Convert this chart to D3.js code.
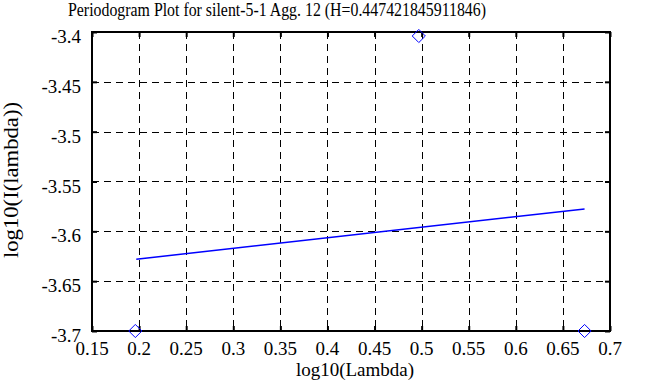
<!DOCTYPE html>
<html>
<head>
<meta charset="utf-8">
<script src="https://cdn.jsdelivr.net/npm/d3@7"></script>
<style>
  body { margin: 0; background: #fff; }
  text { font-family: "Liberation Serif", "DejaVu Serif", serif; fill: #000; }
</style>
</head>
<body>
<svg id="svg1" width="663" height="387"></svg>
<script>
// data
var titleText = 'Periodogram Plot for silent-5-1 Agg. 12 (H=0.447421845911846)';
var pointsX = [0.196, 0.497, 0.673];
var pointsY = [-3.7, -3.404, -3.7];
var fitX = [0.197, 0.673];
var fitY = [-3.628, -3.5775];
var xTicks = [0.15, 0.2, 0.25, 0.3, 0.35, 0.4, 0.45, 0.5, 0.55, 0.6, 0.65, 0.7];
var yTicks = [-3.4, -3.45, -3.5, -3.55, -3.6, -3.65, -3.7];

var plotLeft = 92, plotRight = 610, plotTop = 32, plotBottom = 331;
var svg = d3.select('#svg1');

var x = d3.scaleLinear().domain([0.15, 0.7]).range([plotLeft, plotRight]);
var y = d3.scaleLinear().domain([-3.7, -3.4]).range([plotBottom, plotTop]);

// dashed grid
svg.append('g').selectAll('line').data(xTicks.slice(1, -1)).enter().append('line')
    .attr('x1', function (d) { return Math.round(x(d)) + 0.5; })
    .attr('x2', function (d) { return Math.round(x(d)) + 0.5; })
    .attr('y1', plotTop).attr('y2', plotBottom)
    .attr('stroke', '#000').attr('stroke-width', 1).attr('stroke-dasharray', '7,5');
svg.append('g').selectAll('line').data(yTicks.slice(1, -1)).enter().append('line')
    .attr('y1', function (d) { return Math.round(y(d)) + 0.5; })
    .attr('y2', function (d) { return Math.round(y(d)) + 0.5; })
    .attr('x1', plotLeft).attr('x2', plotRight)
    .attr('stroke', '#000').attr('stroke-width', 1).attr('stroke-dasharray', '7,5');

// tick marks on frame
var xAxisB = d3.axisBottom(x).tickValues(xTicks).tickSize(-5).tickFormat('');
var xAxisT = d3.axisTop(x).tickValues(xTicks).tickSize(-5).tickFormat('');
var yAxisL = d3.axisLeft(y).tickValues(yTicks).tickSize(-5).tickFormat('');
var yAxisR = d3.axisRight(y).tickValues(yTicks).tickSize(-5).tickFormat('');
[[xAxisB, 'translate(0,' + plotBottom + ')'], [xAxisT, 'translate(0,' + plotTop + ')'],
 [yAxisL, 'translate(' + plotLeft + ',0)'], [yAxisR, 'translate(' + plotRight + ',0)']].forEach(function (a) {
    var g = svg.append('g').attr('transform', a[1]).call(a[0]);
    g.select('.domain').remove();
    g.selectAll('line').attr('stroke', '#000').attr('stroke-width', 2);
});

// frame
svg.append('rect').attr('x', plotLeft).attr('y', plotTop)
    .attr('width', plotRight - plotLeft).attr('height', plotBottom - plotTop)
    .attr('fill', 'none').attr('stroke', '#000').attr('stroke-width', 2);

// tick labels
svg.append('g').selectAll('text').data(xTicks).enter().append('text')
    .attr('x', function (d) { return x(d); })
    .attr('y', 355)
    .attr('text-anchor', 'middle')
    .attr('font-size', 19)
    .text(function (d) { return d; });
svg.append('g').selectAll('text').data(yTicks).enter().append('text')
    .attr('x', 81)
    .attr('y', function (d) { return y(d) + 11; })
    .attr('text-anchor', 'end')
    .attr('font-size', 19)
    .text(function (d) { return d; });

// fit line
var line = d3.line().x(function (d) { return x(d[0]); }).y(function (d) { return y(d[1]); });
svg.append('path').datum(d3.zip(fitX, fitY))
    .attr('d', line).attr('fill', 'none').attr('stroke', '#0000ff').attr('stroke-width', 1.5);

// diamonds
svg.append('g').selectAll('path').data(d3.zip(pointsX, pointsY)).enter().append('path')
    .attr('d', d3.symbol(d3.symbolDiamond2, 110))
    .attr('transform', function (d) { return 'translate(' + x(d[0]) + ',' + y(d[1]) + ')'; })
    .attr('fill', 'none').attr('stroke', '#0000ff').attr('stroke-width', 1);

// titles
svg.append('text').attr('x', 277).attr('y', 16).attr('text-anchor', 'middle')
    .attr('font-size', 18).attr('textLength', 418).attr('lengthAdjust', 'spacingAndGlyphs')
    .text(titleText);
svg.append('text').attr('x', 355).attr('y', 376).attr('text-anchor', 'middle')
    .attr('font-size', 19).text('log10(Lambda)');
svg.append('text').attr('transform', 'translate(18,' + 180 + ') rotate(-90)')
    .attr('text-anchor', 'middle').attr('font-size', 20)
    .attr('textLength', 156).attr('lengthAdjust', 'spacingAndGlyphs')
    .text('log10(I(lambda))');
</script>
</body>
</html>
